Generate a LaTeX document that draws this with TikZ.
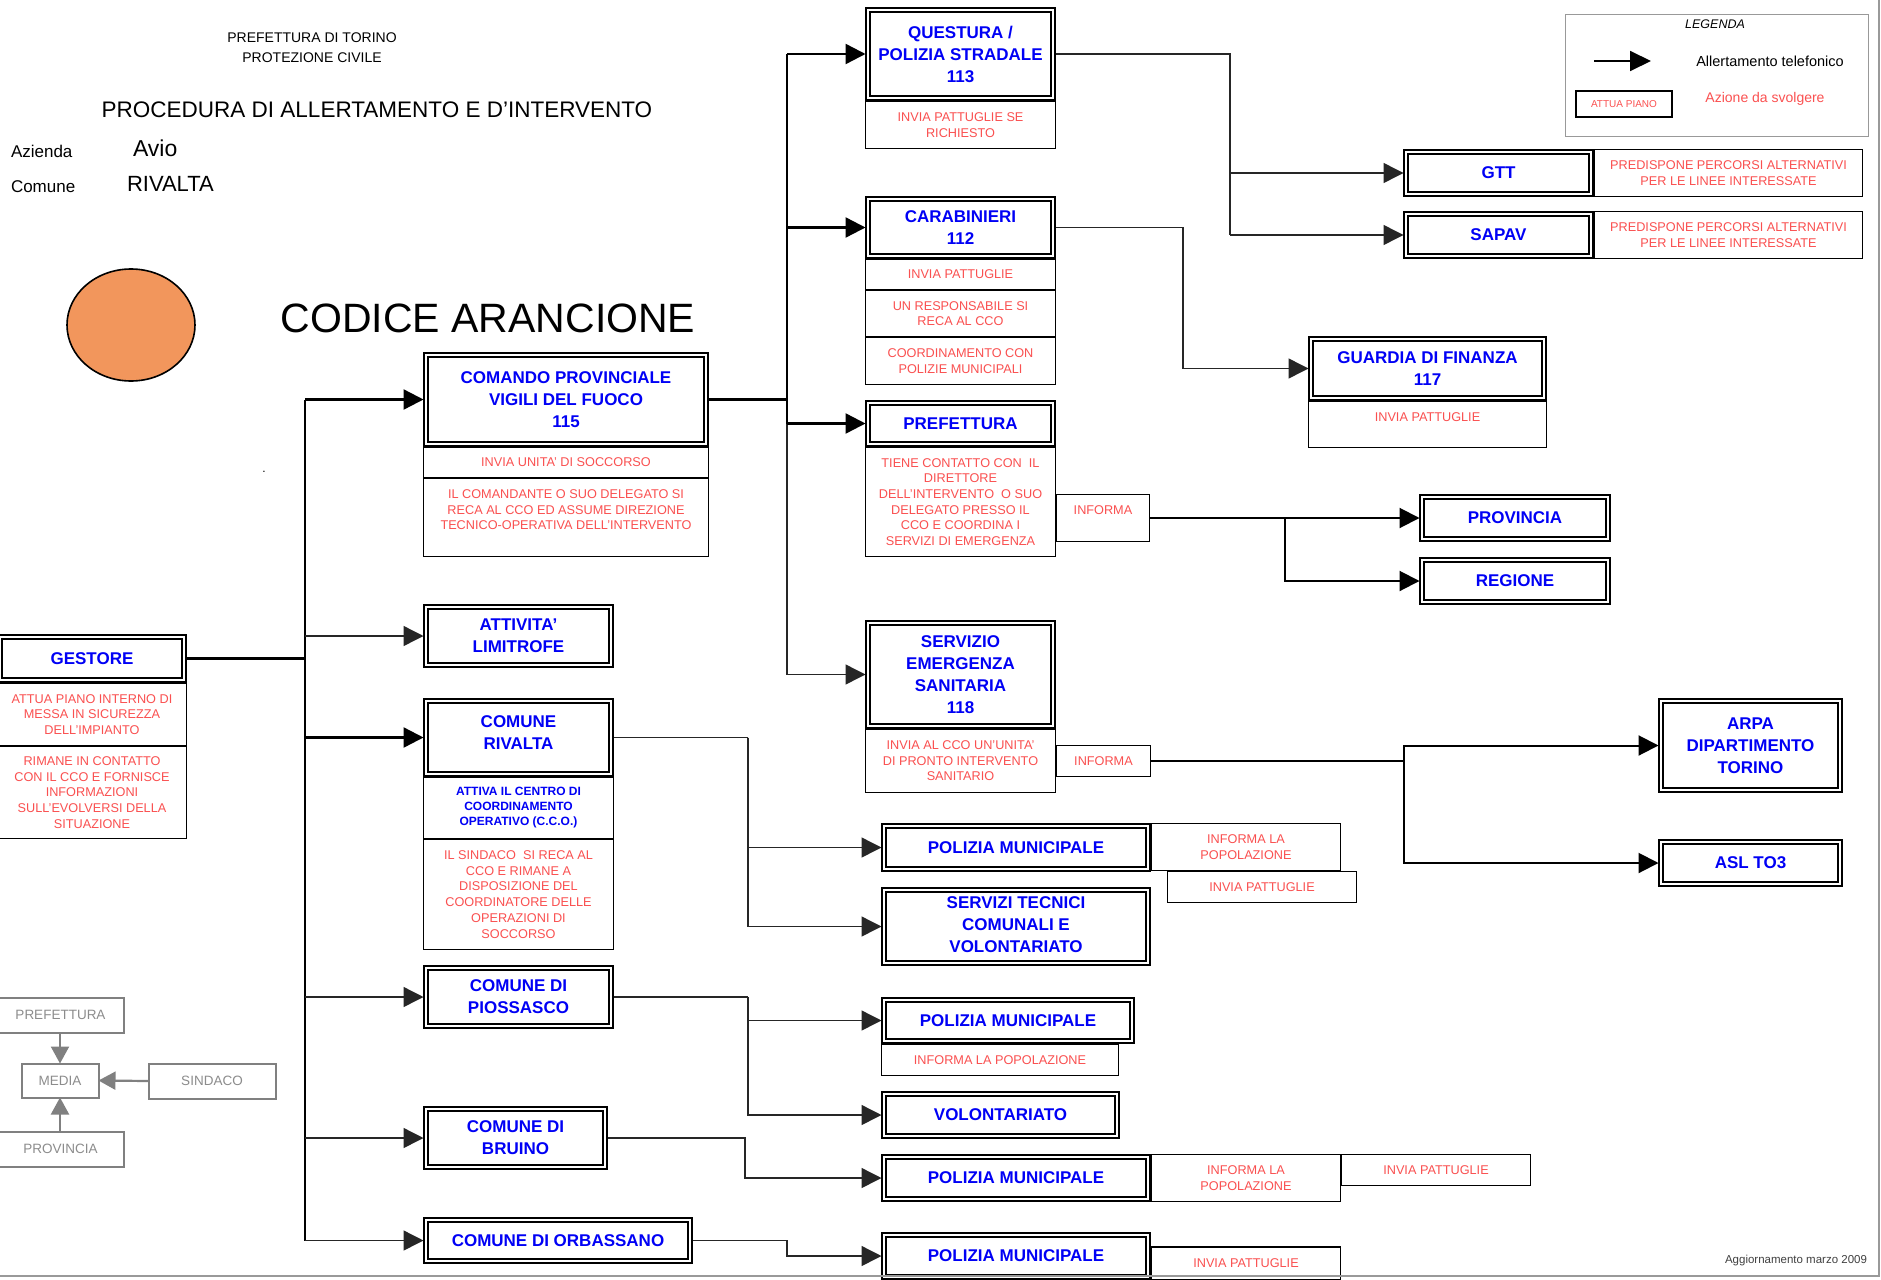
\documentclass[tikz,border=0pt]{standalone}
\usepackage{fontspec}
\setmainfont{Liberation Sans}
\usetikzlibrary{arrows.meta,backgrounds}
\definecolor{azrosso}{RGB}{250,80,80}
\definecolor{azblu}{RGB}{0,0,245}
\definecolor{arancio}{RGB}{242,150,92}
\definecolor{grigiom}{RGB}{128,128,128}

\begin{document}
\begin{tikzpicture}[x=1pt, y=-1pt,
  ente/.style={draw, double, double distance=2.4pt, line width=1.6pt, fill=white, align=center,
    text=azblu, inner sep=1pt, outer sep=0pt, font=\bfseries\fontsize{17}{22}\selectfont},
  azione/.style={draw, line width=1.3pt, fill=white, align=center, text=azrosso,
    inner sep=1pt, outer sep=0pt, font=\fontsize{12.7}{15.6}\selectfont},
  mbox/.style={draw=grigiom, line width=2pt, fill=white, text=black!45, inner sep=1pt,
    outer sep=0pt, font=\fontsize{13.5}{16}\selectfont},
  testo/.style={inner sep=0pt, outer sep=0pt},
  filo/.style={line width=1.4pt, black!85},
  filoG/.style={line width=2.4pt},
  freccia/.style={-{Triangle[length=20pt,width=20pt]}, shorten >=2.5pt},
  frecciaG/.style={-{Triangle[length=17pt,width=18pt]}, line width=2.2pt, grigiom}]

  \useasboundingbox (0,0) rectangle (1881,1279);

  % 1. Intestazione
  \node[testo, align=center, font=\fontsize{14}{20}\selectfont] (prefto) at (312,48) {PREFETTURA DI TORINO\\PROTEZIONE CIVILE};
  \node[testo, font=\fontsize{22.5}{25}\selectfont] (titolo) at (377,110) {PROCEDURA DI ALLERTAMENTO E D’INTERVENTO};
  \node[testo, anchor=west, font=\fontsize{17}{20}\selectfont] (azienda) at (11,151) {Azienda};
  \node[testo, anchor=west, font=\fontsize{23}{26}\selectfont] (avio) at (133,148) {Avio};
  \node[testo, anchor=west, font=\fontsize{17}{20}\selectfont] (comune) at (11,187) {Comune};
  \node[testo, anchor=west, font=\fontsize{22}{26}\selectfont] (rivaltaT) at (127,184) {RIVALTA};
  \draw[fill=arancio, line width=1.6pt] (131,325) ellipse [x radius=64pt, y radius=56pt];
  \node[testo, font=\fontsize{41}{44}\selectfont] (codice) at (488,318) {CODICE ARANCIONE};
  \node[testo, font=\fontsize{12}{14}\selectfont] (punto) at (264,472) {.};

  % 2. Legenda
  \node[draw=black!40, line width=1.5pt, minimum width=303pt, minimum height=122pt, inner sep=0pt] (legenda) at (1717,75.5) {};
  \node[testo, font=\itshape\fontsize{12.5}{14}\selectfont] (legendaT) at (1715,24) {LEGENDA};
  \coordinate (legA) at (1594,61);
  \coordinate (legB) at (1651,61);
  \draw[line width=1.8pt, -{Triangle[length=21pt,width=20pt]}] (legA) -- (legB);
  \node[testo, font=\fontsize{14.5}{16}\selectfont] (legAll) at (1770,61) {Allertamento telefonico};
  \node[draw, line width=2pt, minimum width=96pt, minimum height=26pt, inner sep=0pt, text=azrosso,
    font=\fontsize{10}{12}\selectfont] (legAtt) at (1624,104) {ATTUA PIANO};
  \node[testo, text=azrosso, font=\fontsize{14}{16}\selectfont] (legAz) at (1765,99) {Azione da svolgere};

  % 3. Enti allertati
  \node[ente, minimum width=184pt, minimum height=43pt] (gestore) at (92,658.5) {GESTORE};
  \node[ente, minimum width=280pt, minimum height=89pt] (vvf) at (566,399.5) {COMANDO PROVINCIALE\\VIGILI DEL FUOCO\\115};
  \node[ente, minimum width=185pt, minimum height=58pt] (attivita) at (518.5,636) {ATTIVITA’\\LIMITROFE};
  \node[ente, minimum width=185pt, minimum height=73pt] (rivalta) at (518.5,737.5) {COMUNE\\RIVALTA\\[-12pt]\mbox{}};
  \node[ente, minimum width=185pt, minimum height=58pt] (piossasco) at (518.5,997) {COMUNE DI\\PIOSSASCO};
  \node[ente, minimum width=179pt, minimum height=58pt] (bruino) at (515.5,1138) {COMUNE DI\\BRUINO};
  \node[ente, minimum width=264pt, minimum height=41pt] (orbassano) at (558,1240.5) {COMUNE DI ORBASSANO};
  \node[ente, minimum width=185pt, minimum height=88pt] (questura) at (960.5,54) {QUESTURA /\\POLIZIA STRADALE\\113};
  \node[ente, minimum width=185pt, minimum height=57pt] (carab) at (960.5,227.5) {CARABINIERI\\112};
  \node[ente, minimum width=185pt, minimum height=41pt] (pref) at (960.5,423.5) {PREFETTURA};
  \node[ente, minimum width=185pt, minimum height=103pt] (sues) at (960.5,674.5) {SERVIZIO\\EMERGENZA\\SANITARIA\\118};
  \node[ente, minimum width=185pt, minimum height=42pt] (gtt) at (1498.5,173) {GTT};
  \node[ente, minimum width=185pt, minimum height=42pt] (sapav) at (1498.5,235) {SAPAV};
  \node[ente, minimum width=233pt, minimum height=59pt] (gdf) at (1427.5,368.5) {GUARDIA DI FINANZA\\117};
  \node[ente, minimum width=186pt, minimum height=42pt] (provincia) at (1515,518) {PROVINCIA};
  \node[ente, minimum width=186pt, minimum height=42pt] (regione) at (1515,581) {REGIONE};
  \node[ente, minimum width=179pt, minimum height=89pt] (arpa) at (1750.5,745.5) {ARPA\\DIPARTIMENTO\\TORINO};
  \node[ente, minimum width=179pt, minimum height=42pt] (asl) at (1750.5,863) {ASL TO3};
  \node[ente, minimum width=264pt, minimum height=43pt] (pm1) at (1016,847.5) {POLIZIA MUNICIPALE};
  \node[ente, minimum width=264pt, minimum height=73pt] (servtec) at (1016,926.5) {\mbox{}\\[-14pt]SERVIZI TECNICI\\COMUNALI E\\VOLONTARIATO};
  \node[ente, minimum width=248pt, minimum height=41pt] (pm2) at (1008,1020.5) {POLIZIA MUNICIPALE};
  \node[ente, minimum width=233pt, minimum height=42pt] (volont) at (1000.5,1115) {VOLONTARIATO};
  \node[ente, minimum width=264pt, minimum height=42pt] (pm3) at (1016,1178) {POLIZIA MUNICIPALE};
  \node[ente, minimum width=264pt, minimum height=42pt] (pm4) at (1016,1256) {POLIZIA MUNICIPALE};

  % 4. Azioni da svolgere
  \node[azione, minimum width=189pt, minimum height=62pt] (gestoreA) at (92,714.5) {ATTUA PIANO INTERNO DI\\MESSA IN SICUREZZA\\DELL’IMPIANTO};
  \node[azione, minimum width=189pt, minimum height=92pt] (gestoreB) at (92,792.5) {RIMANE IN CONTATTO\\CON IL CCO E FORNISCE\\INFORMAZIONI\\SULL’EVOLVERSI DELLA\\SITUAZIONE};
  \node[azione, minimum width=285pt, minimum height=30pt] (vvfA) at (566,462.5) {INVIA UNITA’ DI SOCCORSO};
  \node[azione, minimum width=285pt, minimum height=78pt] (vvfB) at (566,517.5) {IL COMANDANTE O SUO DELEGATO SI\\RECA AL CCO ED ASSUME DIREZIONE\\TECNICO-OPERATIVA DELL’INTERVENTO\\ \mbox{}};
  \node[azione, minimum width=190pt, minimum height=47pt] (questuraA) at (960.5,125) {INVIA PATTUGLIE SE\\RICHIESTO};
  \node[azione, minimum width=190pt, minimum height=30pt] (carabA) at (960.5,274.5) {INVIA PATTUGLIE};
  \node[azione, minimum width=190pt, minimum height=46pt] (carabB) at (960.5,313.5) {UN RESPONSABILE SI\\RECA AL CCO};
  \node[azione, minimum width=190pt, minimum height=47pt] (carabC) at (960.5,361) {COORDINAMENTO CON\\POLIZIE MUNICIPALI};
  \node[azione, minimum width=190pt, minimum height=109pt] (prefA) at (960.5,502) {TIENE CONTATTO CON\ \ IL\\DIRETTORE\\DELL’INTERVENTO\ \ O SUO\\DELEGATO PRESSO IL\\CCO E COORDINA I\\SERVIZI DI EMERGENZA};
  \node[azione, minimum width=93pt, minimum height=47pt] (prefI) at (1103,518) {INFORMA\\ \mbox{}};
  \node[azione, minimum width=268pt, minimum height=47pt] (gttA) at (1728.5,173) {PREDISPONE PERCORSI ALTERNATIVI\\PER LE LINEE INTERESSATE};
  \node[azione, minimum width=268pt, minimum height=47pt] (sapavA) at (1728.5,235) {PREDISPONE PERCORSI ALTERNATIVI\\PER LE LINEE INTERESSATE};
  \node[azione, minimum width=238pt, minimum height=46pt] (gdfA) at (1427.5,424.5) {INVIA PATTUGLIE\\ \mbox{}};
  \node[azione, minimum width=190pt, minimum height=61pt, text=azblu, font=\bfseries\fontsize{12}{15}\selectfont] (rivaltaA) at (518.5,808) {ATTIVA IL CENTRO DI\\COORDINAMENTO\\OPERATIVO (C.C.O.)};
  \node[azione, minimum width=190pt, minimum height=110pt, font=\fontsize{12.7}{15.8}\selectfont] (rivaltaB) at (518.5,894.5) {IL SINDACO\ \ SI RECA AL\\CCO E RIMANE A\\DISPOSIZIONE DEL\\COORDINATORE DELLE\\OPERAZIONI DI\\SOCCORSO};
  \node[azione, minimum width=190pt, minimum height=63pt] (suesA) at (960.5,761) {INVIA AL CCO UN’UNITA’\\DI PRONTO INTERVENTO\\SANITARIO};
  \node[azione, minimum width=94pt, minimum height=31pt] (suesI) at (1103.5,761) {INFORMA};
  \node[azione, minimum width=189pt, minimum height=47pt] (pm1A) at (1246,847) {INFORMA LA\\POPOLAZIONE};
  \node[azione, minimum width=189pt, minimum height=31pt] (pm1B) at (1262,887) {INVIA PATTUGLIE};
  \node[azione, minimum width=237pt, minimum height=31pt] (pm2A) at (1000,1060) {INFORMA LA POPOLAZIONE};
  \node[azione, minimum width=189pt, minimum height=47pt] (pm3A) at (1246,1178) {INFORMA LA\\POPOLAZIONE};
  \node[azione, minimum width=189pt, minimum height=31pt] (pm3B) at (1436,1170) {INVIA PATTUGLIE};
  \node[azione, minimum width=189pt, minimum height=33pt] (pm4A) at (1246,1263.5) {INVIA PATTUGLIE};

  % 5. Media
  \node[mbox, minimum width=126pt, minimum height=35pt] (mpref) at (60.5,1015) {PREFETTURA};
  \node[mbox, minimum width=77pt, minimum height=34pt] (media) at (60,1080.5) {MEDIA};
  \node[mbox, minimum width=127pt, minimum height=35pt] (sindaco) at (212,1081) {SINDACO};
  \node[mbox, minimum width=126pt, minimum height=35pt] (mprov) at (60.5,1149) {PROVINCIA};
  \draw[frecciaG] (media.north |- mpref.south) -- (media.north);
  \draw[frecciaG] (sindaco.west) -- (media.east);
  \draw[frecciaG] (media.south |- mprov.north) -- (media.south);

  % 6. Allertamento telefonico (collegamenti)
  \coordinate (h1) at (305,0);
  \coordinate (h2) at (787,0);
  \coordinate (h3) at (1230,0);
  \coordinate (h4) at (1183,0);
  \coordinate (h5) at (1285,0);
  \coordinate (h6) at (1404,0);
  \coordinate (h7) at (748,0);
  \coordinate (h8) at (745,0);
  \coordinate (h9) at (787,0);
  \begin{scope}[on background layer]
    % gestore
    \draw[filoG] (gestore.east) -- (gestore.east -| h1);
    \draw[line width=2pt] (vvf.west -| h1) -- (orbassano.west -| h1);
    \draw[filoG, freccia] (vvf.west -| h1) -- (vvf.west);
    \draw[filoG, freccia] (rivalta.west -| h1) -- (rivalta.west);
    \foreach \n in {attivita,piossasco,bruino,orbassano}
      \draw[filo, freccia] (\n.west -| h1) -- (\n.west);
    % vigili del fuoco
    \draw[filoG] (vvf.east) -- (vvf.east -| h2);
    \draw[filoG] (questura.west -| h2) -- (pref.west -| h2);
    \draw[filo] (pref.west -| h2) -- (sues.west -| h2);
    \foreach \n in {questura,carab,pref}
      \draw[filoG, freccia] (\n.west -| h2) -- (\n.west);
    \draw[filo, freccia] (sues.west -| h2) -- (sues.west);
    % questura, carabinieri
    \draw[filo] (questura.east) -- (questura.east -| h3) -- (sapav.west -| h3);
    \draw[filo, freccia] (gtt.west -| h3) -- (gtt.west);
    \draw[filo, freccia] (sapav.west -| h3) -- (sapav.west);
    \draw[filo, freccia] (carab.east) -- (carab.east -| h4) |- (gdf.west);
    % prefettura, 118
    \draw[line width=2pt, freccia] (prefI.east) -- (provincia.west);
    \draw[line width=2pt, freccia] (prefI.east -| h5) |- (regione.west);
    \draw[line width=2pt] (suesI.east) -- (suesI.east -| h6);
    \draw[line width=2pt, freccia] (suesI.east -| h6) |- (arpa.west);
    \draw[line width=2pt, freccia] (suesI.east -| h6) |- (asl.west);
    % comuni
    \draw[filo] (rivalta.east) -- (rivalta.east -| h7);
    \draw[filo, freccia] (rivalta.east -| h7) |- (pm1.west);
    \draw[filo, freccia] (rivalta.east -| h7) |- (servtec.west);
    \draw[filo] (piossasco.east) -- (piossasco.east -| h7);
    \draw[filo, freccia] (piossasco.east -| h7) |- (pm2.west);
    \draw[filo, freccia] (piossasco.east -| h7) |- (volont.west);
    \draw[filo, freccia] (bruino.east) -- (bruino.east -| h8) |- (pm3.west);
    \draw[filo, freccia] (orbassano.east) -- (orbassano.east -| h9) |- (pm4.west);
  \end{scope}

  % 7. Cornice e data
  \draw[line width=2pt, black!40] (1879,0) -- (1879,1276) -- (0,1276);
  \node[testo, text=black!75, font=\fontsize{11.5}{13}\selectfont] (aggiorn) at (1796,1261) {Aggiornamento marzo 2009};
\end{tikzpicture}
\end{document}
